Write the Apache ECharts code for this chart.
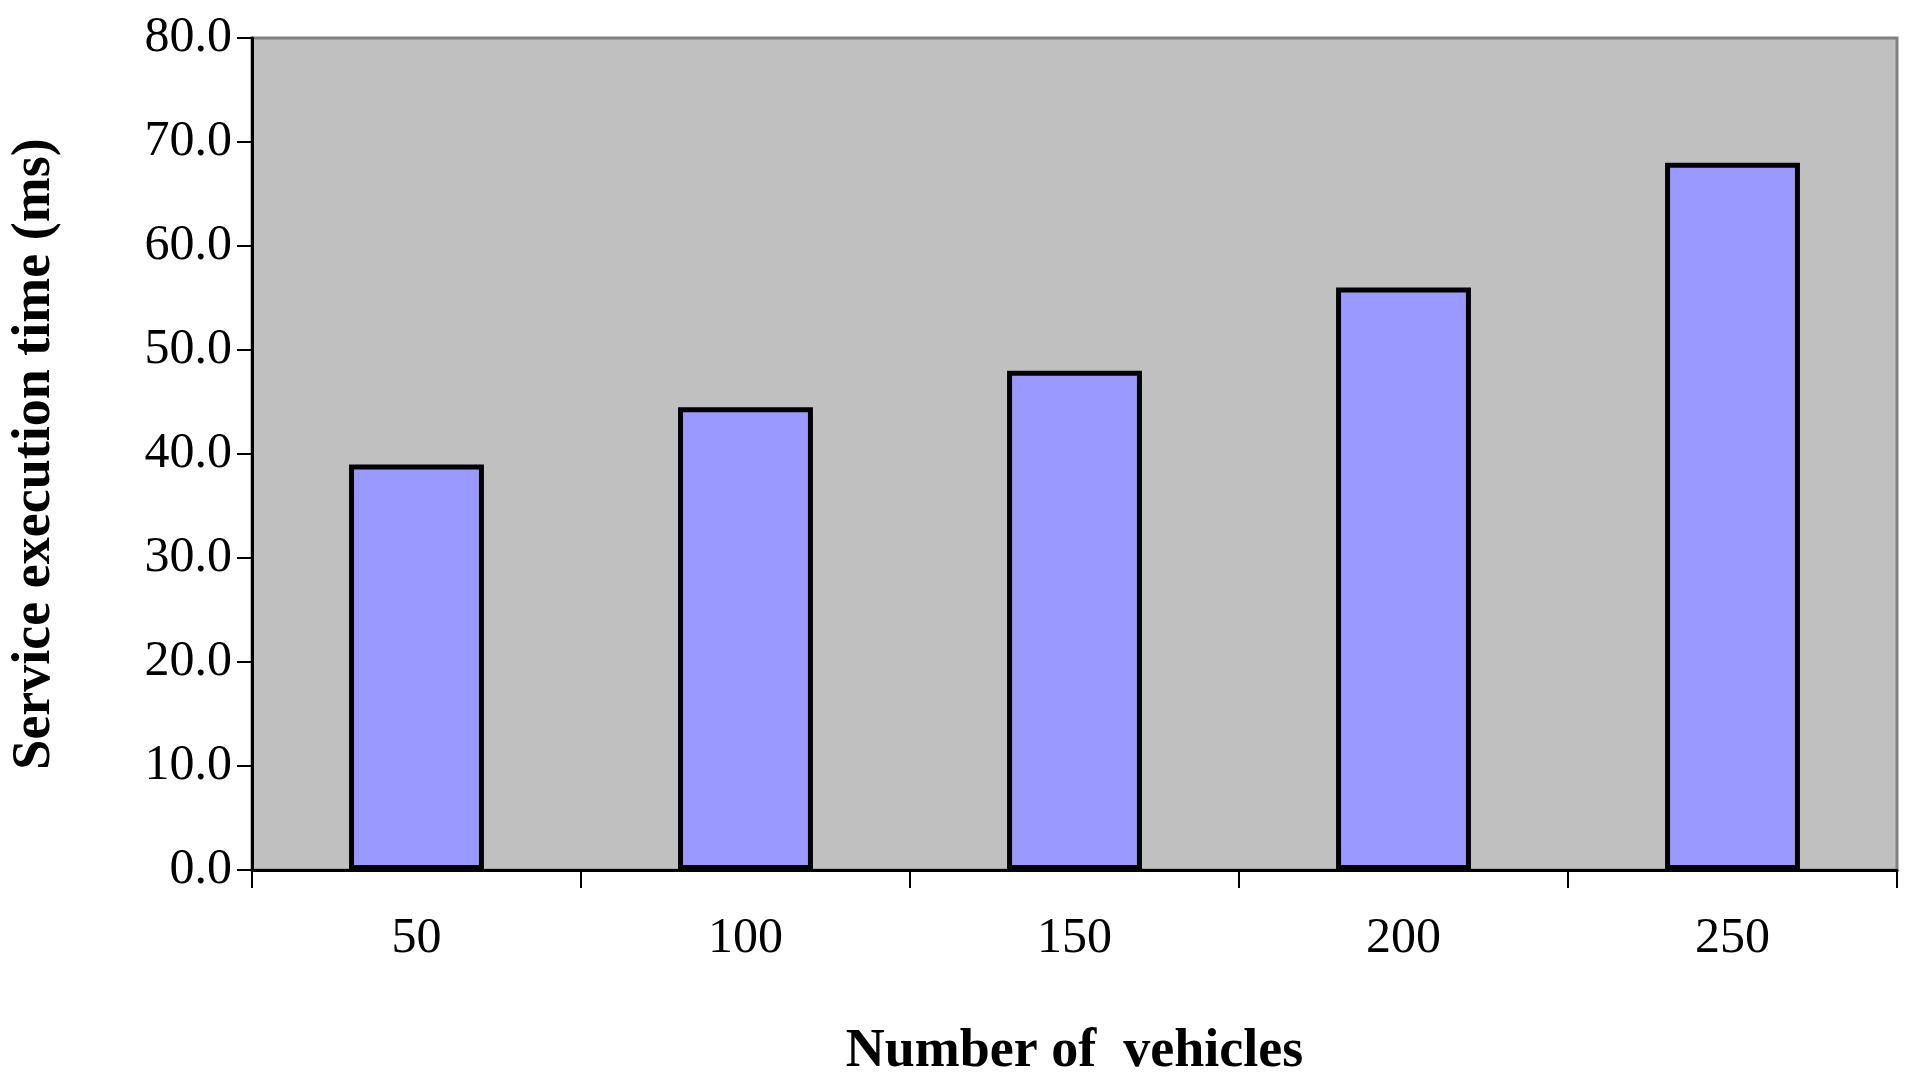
<!DOCTYPE html>
<html>
<head>
<meta charset="utf-8">
<script src="https://cdn.jsdelivr.net/npm/echarts@6/dist/echarts.min.js"></script>
<style>html,body{margin:0;padding:0;background:#fff}#chart{width:1913px;height:1084px}</style>
</head>
<body>
<div id="chart"></div>
<script>
const categories = ['50', '100', '150', '200', '250'];
const execTimes = [39.0, 44.5, 48.0, 56.0, 68.0];

const font = 'Liberation Serif';
const chart = echarts.init(document.getElementById('chart'));
chart.setOption({
  animation: false,
  grid: {
    left: 252, right: 16, top: 38, bottom: 211,
    show: true, backgroundColor: '#c0c0c0', borderColor: '#808080', borderWidth: 3
  },
  xAxis: {
    type: 'category',
    data: categories,
    name: 'Number of  vehicles',
    nameLocation: 'middle',
    nameGap: 155,
    nameTextStyle: { fontFamily: font, fontSize: 54, fontWeight: 'bold', color: '#000' },
    axisLine: { lineStyle: { color: '#000', width: 3 } },
    axisTick: { show: true, length: 18, lineStyle: { color: '#000', width: 2 } },
    axisLabel: { margin: 44, fontFamily: font, fontSize: 50, color: '#000' }
  },
  yAxis: {
    type: 'value',
    min: 0, max: 80, interval: 10,
    name: 'Service execution time (ms)',
    nameLocation: 'middle',
    nameGap: 190,
    nameTextStyle: { fontFamily: font, fontSize: 54, fontWeight: 'bold', color: '#000' },
    axisLine: { show: true, lineStyle: { color: '#000', width: 3 } },
    axisTick: { show: true, length: 15, lineStyle: { color: '#000', width: 2 } },
    splitLine: { show: false },
    axisLabel: { margin: 20, fontFamily: font, fontSize: 50, color: '#000', formatter: v => v.toFixed(1) }
  },
  series: [{
    type: 'bar',
    data: execTimes,
    barWidth: '41%',
    itemStyle: { color: '#9999ff', borderColor: '#000', borderWidth: 5 }
  }]
});
</script>
</body>
</html>
